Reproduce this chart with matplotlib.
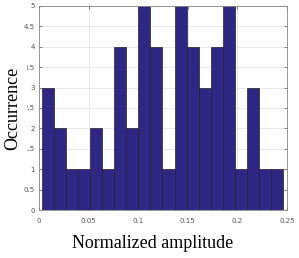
import numpy as np
import matplotlib
matplotlib.use("Agg")
import matplotlib.pyplot as plt

# hauteurs des barres de l'histogramme (20 classes)
counts = [3, 2, 1, 1, 2, 1, 4, 2, 5, 4, 1, 5, 4, 3, 4, 5, 1, 3, 1, 1]
x_start = 0.003
x_end = 0.246
x_ticks = [0, 0.05, 0.1, 0.15, 0.2, 0.25]
x_ticklabels = ['0', '0.05', '0.1', '0.15', '0.2', '0.25']
y_ticks = [0, 0.5, 1, 1.5, 2, 2.5, 3, 3.5, 4, 4.5, 5]
y_ticklabels = ['0', '0.5', '1', '1.5', '2', '2.5', '3', '3.5', '4', '4.5', '5']

edges = np.linspace(x_start, x_end, len(counts) + 1)

fig = plt.figure(figsize=(2.99, 2.58), dpi=100)
ax = fig.add_axes([0.130, 0.186, 0.830, 0.791])

ax.bar(edges[:-1], counts, width=np.diff(edges), align='edge',
       color='#2f2686', edgecolor='#222222', linewidth=0.5, zorder=2)

ax.set_xlim(0, 0.25)
ax.set_ylim(0, 5)
ax.set_xticks(x_ticks)
ax.set_xticklabels(x_ticklabels)
ax.set_yticks(y_ticks)
ax.set_yticklabels(y_ticklabels)
ax.grid(True, color='#e4e4e4', linewidth=0.6, zorder=0)
ax.tick_params(labelsize=5, colors='#555555', length=2, width=0.5,
               direction='in', top=True, right=True, pad=3)
ax.tick_params(axis='x', pad=6)
for s in ax.spines.values():
    s.set_color('#888888')
    s.set_linewidth(0.6)

ax.set_xlabel('Normalized amplitude', family='Liberation Serif', fontsize=13)
ax.xaxis.set_label_coords(0.46, -0.12)
# le libellé masque une partie des chiffres, comme sur l'original
ax.set_ylabel('Occurrence', family='Liberation Serif', fontsize=13,
              bbox=dict(facecolor='white', edgecolor='none', pad=4))
ax.yaxis.set_label_coords(-0.072, 0.5)

fig.savefig('out.png', dpi=100)
